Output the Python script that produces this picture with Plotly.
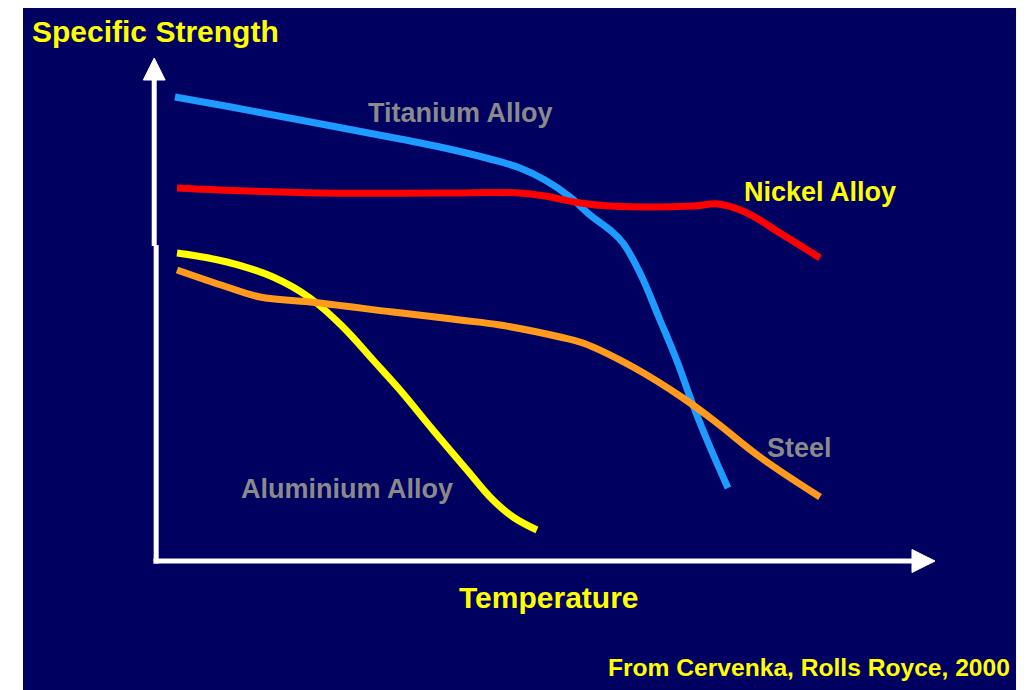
import plotly.graph_objects as go

# ---- data (arbitrary units: temperature 0-100, specific strength 0-100) ----
ti_x = [2.56, 8.33, 18.59, 31.41, 36.54, 42.95, 46.79, 50.0, 53.21, 55.77, 58.33, 60.0, 62.18, 64.74, 66.92, 68.97, 71.15, 73.46]
ti_y = [92.8, 91.2, 88.2, 84.4, 82.8, 80.4, 78.6, 76.2, 72.8, 69.2, 66.2, 63.6, 57.6, 48.2, 40.0, 31.2, 22.8, 14.6]

ni_x = [2.82, 8.33, 21.15, 36.54, 46.79, 50.0, 54.49, 58.33, 68.97, 72.18, 75.64, 80.13, 85.26]
ni_y = [74.6, 74.2, 73.6, 73.6, 73.6, 73.0, 71.6, 71.0, 71.0, 71.4, 69.8, 65.6, 60.6]

al_x = [2.82, 9.23, 15.13, 19.87, 24.10, 27.95, 31.41, 35.64, 40.0, 43.33, 45.9, 48.97]
al_y = [61.6, 59.8, 56.8, 52.6, 46.8, 40.2, 34.2, 26.2, 18.2, 12.2, 8.8, 6.2]

st_x = [2.82, 9.23, 13.46, 19.87, 30.51, 39.10, 44.23, 51.92, 54.87, 61.28, 67.69, 72.05, 77.56, 85.26]
st_y = [58.2, 54.8, 52.8, 51.8, 49.8, 48.2, 47.2, 44.8, 43.6, 38.8, 32.6, 27.6, 20.8, 12.8]

series_names = ["Titanium Alloy", "Nickel Alloy", "Aluminium Alloy", "Steel"]
y_title = "Specific Strength"
x_title = "Temperature"
source = "From Cervenka, Rolls Royce, 2000"

NAVY = "#000060"
FONT = "Liberation Sans, Arial, sans-serif"
GRAY = "#8a8a8a"
YEL = "#FFFF00"

fig = go.Figure()
for xs, ys, col, name in [
    (ti_x, ti_y, "#1E9BFF", series_names[0]),
    (ni_x, ni_y, "#FF0000", series_names[1]),
    (al_x, al_y, "#FFFF00", series_names[2]),
    (st_x, st_y, "#FF9A1E", series_names[3]),
]:
    fig.add_trace(go.Scatter(x=xs, y=ys, mode="lines", name=name,
                             line=dict(color=col, width=7, shape="spline", smoothing=1.1),
                             cliponaxis=False, hoverinfo="skip", showlegend=False))

shapes = [
    # navy slide background
    dict(type="rect", xref="paper", yref="paper", x0=-0.1084, x1=1.049, y0=-0.2, y1=1.0527,
         fillcolor=NAVY, line=dict(width=0), layer="below"),
    # y axis (two segments with small step)
    dict(type="line", xref="x", yref="y", x0=0.15, x1=0.15, y0=-0.5, y1=63.2,
         line=dict(color="white", width=5)),
    dict(type="line", xref="x", yref="y", x0=-0.1, x1=-0.1, y0=63.0, y1=97.0,
         line=dict(color="white", width=5)),
    dict(type="path", xref="x", yref="y", path="M -1.5,96.2 L -0.1,100.6 L 1.3,96.2 Z",
         fillcolor="white", line=dict(color="white", width=1)),
    # x axis
    dict(type="line", xref="x", yref="y", x0=-0.2, x1=97.5, y0=0, y1=0,
         line=dict(color="white", width=5)),
    dict(type="path", xref="x", yref="y", path="M 97.05,2.3 L 100,0 L 97.05,-2.3 Z",
         fillcolor="white", line=dict(color="white", width=1)),
]

def ann(text, x, y, color, size, xanchor="center", ref="x"):
    return dict(text=f"<b>{text}</b>", x=x, y=y,
                xref="x" if ref == "x" else "paper", yref="y" if ref == "x" else "paper",
                showarrow=False, xanchor=xanchor, yanchor="middle",
                font=dict(family=FONT, size=size, color=color))

annotations = [
    ann(y_title, -0.1002, 1.0073, YEL, 30, "left", ref="paper"),
    ann(series_names[0], 39.23, 89.6, GRAY, 27),
    ann(series_names[1], 85.26, 73.8, YEL, 27),
    ann(series_names[3], 82.69, 22.6, GRAY, 27),
    ann(series_names[2], 24.62, 14.4, GRAY, 27),
    ann(x_title, 0.5047, -0.02, YEL, 30, ref="paper"),
    ann(source, 1.0443, -0.149, YEL, 24.6, "right", ref="paper"),
]

fig.update_layout(
    width=1020, height=682,
    margin=dict(l=108, r=54, t=28, b=104),
    paper_bgcolor="white", plot_bgcolor="rgba(0,0,0,0)",
    xaxis=dict(range=[-5, 105], visible=False, fixedrange=True),
    yaxis=dict(range=[-5, 105], visible=False, fixedrange=True),
    shapes=shapes, annotations=annotations, showlegend=False,
)

fig.write_html("out.html")
